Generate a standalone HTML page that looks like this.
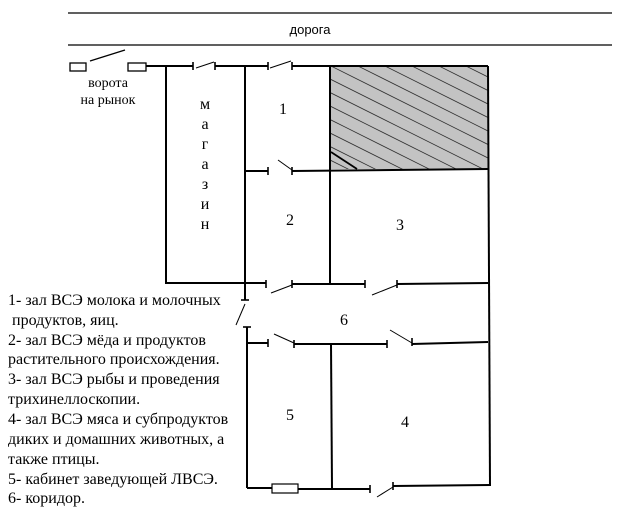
<!DOCTYPE html>
<html><head><meta charset="utf-8"><style>
html,body{margin:0;padding:0;background:#fff;}
svg{display:block;}
text{font-family:"Liberation Serif","Noto Serif CJK SC",serif;fill:#000;}
.s{font-family:"Liberation Sans","Noto Sans CJK SC",sans-serif;}
</style></head><body>
<svg width="621" height="514" viewBox="0 0 621 514" xmlns="http://www.w3.org/2000/svg">
<defs><clipPath id="c"><rect x="330" y="66" width="158" height="103"/></clipPath></defs>
<g stroke="#000" stroke-width="1.3" fill="none">
<line x1="68" y1="13" x2="612" y2="13"/>
<line x1="68" y1="45" x2="612" y2="45"/>
<rect x="70" y="63" width="16" height="8"/>
<rect x="128" y="63" width="18" height="8"/>
<line x1="90" y1="61" x2="125" y2="50"/>
</g>
<text class="s" x="310" y="34" font-size="13" text-anchor="middle">дорога</text>
<text x="108" y="87" font-size="14" text-anchor="middle">ворота</text>
<text x="108" y="104" font-size="14" text-anchor="middle">на рынок</text>
<rect x="330" y="66" width="158" height="103" fill="#c3c3c3"/>
<g clip-path="url(#c)" stroke="#333" stroke-width="0.8">
<line x1="142" y1="66" x2="442" y2="216"/>
<line x1="169" y1="66" x2="469" y2="216"/>
<line x1="196" y1="66" x2="496" y2="216"/>
<line x1="223" y1="66" x2="523" y2="216"/>
<line x1="250" y1="66" x2="550" y2="216"/>
<line x1="277" y1="66" x2="577" y2="216"/>
<line x1="304" y1="66" x2="604" y2="216"/>
<line x1="331" y1="66" x2="631" y2="216"/>
<line x1="358" y1="66" x2="658" y2="216"/>
<line x1="385" y1="66" x2="685" y2="216"/>
<line x1="412" y1="66" x2="712" y2="216"/>
<line x1="439" y1="66" x2="739" y2="216"/>
<line x1="466" y1="66" x2="766" y2="216"/>
</g>
<line x1="331" y1="152" x2="357" y2="169" stroke="#000" stroke-width="1.8"/>
<g stroke="#000" stroke-width="2" fill="none">
<polyline points="146,66 193,66"/>
<line x1="215" y1="66" x2="268" y2="66"/>
<line x1="292" y1="66" x2="488" y2="66"/>
<polyline points="166,66 166,283 266,283"/>
<line x1="245" y1="66" x2="245" y2="300"/>
<line x1="330" y1="66" x2="330" y2="283"/>
<line x1="488" y1="66" x2="490" y2="486"/>
<line x1="245" y1="171" x2="268" y2="171"/>
<line x1="292" y1="171" x2="488" y2="169"/>
<line x1="292" y1="284" x2="365" y2="284"/>
<line x1="397" y1="284" x2="488" y2="283"/>
<line x1="247" y1="327" x2="247" y2="488"/>
<line x1="247" y1="343" x2="268" y2="343"/>
<line x1="294" y1="344" x2="387" y2="344"/>
<line x1="412" y1="344" x2="488" y2="342"/>
<line x1="331" y1="344" x2="332" y2="488"/>
<line x1="247" y1="488" x2="272" y2="488"/>
<line x1="298" y1="489" x2="370" y2="489"/>
<line x1="393" y1="486" x2="490" y2="485"/>
</g>
<rect x="272" y="484" width="26" height="9" fill="#fff" stroke="#000" stroke-width="1.2"/>
<g stroke="#000" stroke-width="1.6">
<line x1="193" y1="62" x2="193" y2="70"/><line x1="215" y1="62" x2="215" y2="70"/>
<line x1="268" y1="62" x2="268" y2="70"/><line x1="292" y1="62" x2="292" y2="70"/>
<line x1="268" y1="167" x2="268" y2="175"/><line x1="292" y1="167" x2="292" y2="175"/>
<line x1="266" y1="280" x2="266" y2="288"/><line x1="292" y1="280" x2="292" y2="288"/>
<line x1="365" y1="280" x2="365" y2="288"/><line x1="397" y1="280" x2="397" y2="288"/>
<line x1="241" y1="300" x2="249" y2="300"/><line x1="243" y1="327" x2="251" y2="327"/>
<line x1="268" y1="339" x2="268" y2="347"/><line x1="294" y1="340" x2="294" y2="348"/>
<line x1="387" y1="340" x2="387" y2="348"/><line x1="412" y1="338" x2="412" y2="346"/>
<line x1="370" y1="485" x2="370" y2="493"/><line x1="393" y1="482" x2="393" y2="490"/>
</g>
<g stroke="#000" stroke-width="1">
<line x1="196" y1="68" x2="214" y2="62"/>
<line x1="270" y1="68" x2="291" y2="61"/>
<line x1="278" y1="160" x2="292" y2="170"/>
<line x1="271" y1="293" x2="292" y2="285"/>
<line x1="372" y1="295" x2="397" y2="285"/>
<line x1="236" y1="325" x2="245" y2="304"/>
<line x1="274" y1="334" x2="294" y2="343"/>
<line x1="390" y1="330" x2="412" y2="343"/>
<line x1="377" y1="497" x2="393" y2="487"/>
</g>
<g font-size="16" text-anchor="middle">
<text x="205" y="109">м</text><text x="205" y="129">а</text><text x="205" y="149">г</text>
<text x="205" y="169">а</text><text x="205" y="189">з</text><text x="205" y="209">и</text>
<text x="205" y="229">н</text>
<text x="283" y="114">1</text><text x="290" y="225">2</text><text x="400" y="230">3</text>
<text x="344" y="325">6</text><text x="290" y="420">5</text><text x="405" y="427">4</text>
</g>
<g font-size="16">
<text x="8" y="305">1- зал ВСЭ молока и молочных</text>
<text x="8" y="325">&#160;продуктов, яиц.</text>
<text x="8" y="345">2- зал ВСЭ мёда и продуктов</text>
<text x="8" y="364">растительного происхождения.</text>
<text x="8" y="384">3- зал ВСЭ рыбы и проведения</text>
<text x="8" y="404">трихинеллоскопии.</text>
<text x="8" y="424">4- зал ВСЭ мяса и субпродуктов</text>
<text x="8" y="444">диких и домашних животных, а</text>
<text x="8" y="464">также птицы.</text>
<text x="8" y="484">5- кабинет заведующей ЛВСЭ.</text>
<text x="8" y="503">6- коридор.</text>
</g>
</svg>
</body></html>
